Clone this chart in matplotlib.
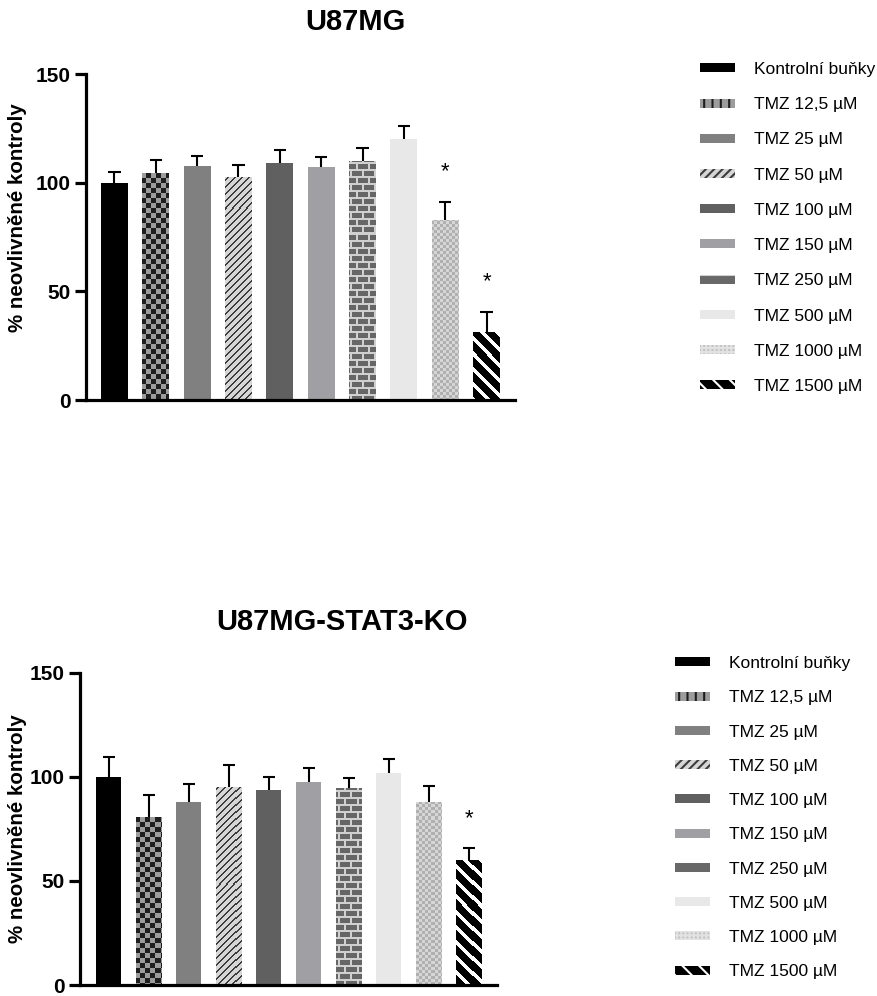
import matplotlib
matplotlib.use('Agg')
import matplotlib.pyplot as plt
import matplotlib.patches as mpatches
import numpy as np

plt.rcParams['font.family'] = ['Liberation Sans', 'DejaVu Sans']

# data
labels = ['Kontrolní buňky', 'TMZ 12,5 µM', 'TMZ 25 µM', 'TMZ 50 µM', 'TMZ 100 µM',
          'TMZ 150 µM', 'TMZ 250 µM', 'TMZ 500 µM', 'TMZ 1000 µM', 'TMZ 1500 µM']
top_means = [100.0, 104.6, 107.7, 102.8, 108.9, 107.4, 110.1, 120.0, 82.8, 31.4]
top_sd = [5.0, 5.8, 4.7, 5.2, 6.0, 4.3, 6.0, 6.2, 8.5, 9.1]
top_sig = [8, 9]
bot_means = [100.0, 80.8, 88.0, 95.2, 93.6, 97.6, 94.6, 101.9, 88.2, 60.2]
bot_sd = [9.8, 10.4, 8.5, 10.4, 6.6, 6.9, 5.1, 6.7, 7.5, 5.7]
bot_sig = [9]
yticks = [0, 50, 100, 150]

# fill style per group: solid colour or a texture name
fills = ['#000000', 'checker', '#808080', 'diag', '#606060',
         '#a0a0a4', 'brick', '#e8e8e8', 'finecheck', 'stripes']

# legend handle look (approximating the textures)
leg_style = {
    'checker': dict(facecolor='#9c9c9c', edgecolor='#1e1e1e', hatch='||'),
    'diag': dict(facecolor='#d6d6d6', edgecolor='#3c3c3c', hatch='////'),
    'brick': dict(facecolor='#686868', edgecolor='#d0d0d0', hatch='-'),
    'finecheck': dict(facecolor='#c2c2c2', edgecolor='#e2e2e2', hatch='++++'),
    'stripes': dict(facecolor='#000000', edgecolor='#ffffff', hatch='\\\\'),
}


def rgb(h):
    h = h.lstrip('#')
    return np.array([int(h[i:i + 2], 16) for i in (0, 2, 4)]) / 255.0


def texture(kind, H, W):
    r = np.arange(H)[:, None]
    c = np.arange(W)[None, :]
    if kind == 'checker':
        m = ((r // 5 + c // 5) % 2) == 0
        a, b = rgb('#1e1e1e'), rgb('#9c9c9c')
    elif kind == 'finecheck':
        m = ((r // 3 + c // 3) % 2) == 0
        a, b = rgb('#b0b0b0'), rgb('#d6d6d6')
    elif kind == 'diag':
        m = ((c + r) % 7) < 2
        a, b = rgb('#3c3c3c'), rgb('#d6d6d6')
    elif kind == 'stripes':
        m = ((c - r) % 15) < 5
        a, b = rgb('#ffffff'), rgb('#000000')
    else:  # brick
        row = r // 7
        mortar_h = (r % 7) >= 5
        off = (row % 2) * 6
        mortar_v = ((c + off) % 12) < 2
        m = mortar_h | mortar_v
        a, b = rgb('#d0d0d0'), rgb('#666666')
    m = np.broadcast_to(m, (H, W))
    img = np.where(m[..., None], a, b)
    return img


def draw_panel(fig, rect, means, sd, sig, width, xlim, title, title_xy, ylab_y):
    ax = fig.add_axes(rect)
    x = np.arange(len(means))
    ax.set_xlim(*xlim)
    ax.set_ylim(0, 150)
    H = int(round(rect[3] * fig.get_figheight() * fig.dpi))
    W = int(round(rect[2] * fig.get_figwidth() * fig.dpi))
    bars = ax.bar(x, means, width=width, linewidth=0, zorder=2)
    for b, f in zip(bars, fills):
        if f.startswith('#'):
            b.set_facecolor(f)
        else:
            b.set_facecolor('none')
            im = ax.imshow(texture(f, H, W), extent=(xlim[0], xlim[1], 0, 150),
                           origin='upper', interpolation='nearest', aspect='auto', zorder=2)
            im.set_clip_path(b)
    ax.set_xlim(*xlim)
    ax.set_ylim(0, 150)
    top = np.array(means) + np.array(sd)
    cw = 0.15
    ax.vlines(x, means, top, color='black', linewidth=1.5, zorder=1)
    ax.hlines(top, x - cw, x + cw, color='black', linewidth=1.5, zorder=1)
    for i in sig:
        ax.text(x[i], top[i] + 9, '*', ha='center', va='bottom', fontsize=16)

    for s in ['top', 'right']:
        ax.spines[s].set_visible(False)
    for s in ['left', 'bottom']:
        ax.spines[s].set_linewidth(2.3)
    ax.set_xticks([])
    ax.set_yticks(yticks)
    ax.tick_params(axis='y', length=8, width=2.3, labelsize=15, pad=3)
    for t in ax.get_yticklabels():
        t.set_fontweight('bold')
    fig.text(title_xy[0] / 877, 1 - title_xy[1] / 996, title, ha='center', va='center',
             fontsize=21, fontweight='bold')
    fig.text(18 / 877, 1 - ylab_y / 996, '% neovlivněné kontroly', rotation=90,
             ha='center', va='center', fontsize=14.8, fontweight='bold')
    return ax


fig = plt.figure(figsize=(8.77, 9.96), dpi=100)

ax1 = draw_panel(fig, [86 / 877, 1 - 400 / 996, 429 / 877, 326 / 996],
                 top_means, top_sd, top_sig, 0.65, (-0.685, 9.685),
                 'U87MG', (355, 22), 218)
ax2 = draw_panel(fig, [80 / 877, 1 - 985 / 996, 417 / 877, 312 / 996],
                 bot_means, bot_sd, bot_sig, 0.63, (-0.72, 9.71),
                 'U87MG-STAT3-KO', (342, 622), 829)

handles = []
for lab, f in zip(labels, fills):
    if f.startswith('#'):
        handles.append(mpatches.Patch(facecolor=f, linewidth=0, label=lab))
    else:
        handles.append(mpatches.Patch(linewidth=0, label=lab, **leg_style[f]))


def add_legend(x_px, y_px, spacing):
    leg = fig.legend(handles=handles, loc='upper left',
                     bbox_to_anchor=(x_px / 877, 1 - y_px / 996),
                     frameon=False, fontsize=12.5, handlelength=2.0, handleheight=0.42,
                     handletextpad=1.09, labelspacing=spacing, borderaxespad=0, borderpad=0)
    for h in leg.legend_handles:
        if hasattr(h, 'set_hatch_linewidth'):
            h.set_hatch_linewidth(1.5)
    return leg


add_legend(700, 62, 1.165)
add_legend(675, 656, 1.11)

fig.savefig('out.png', dpi=100)
